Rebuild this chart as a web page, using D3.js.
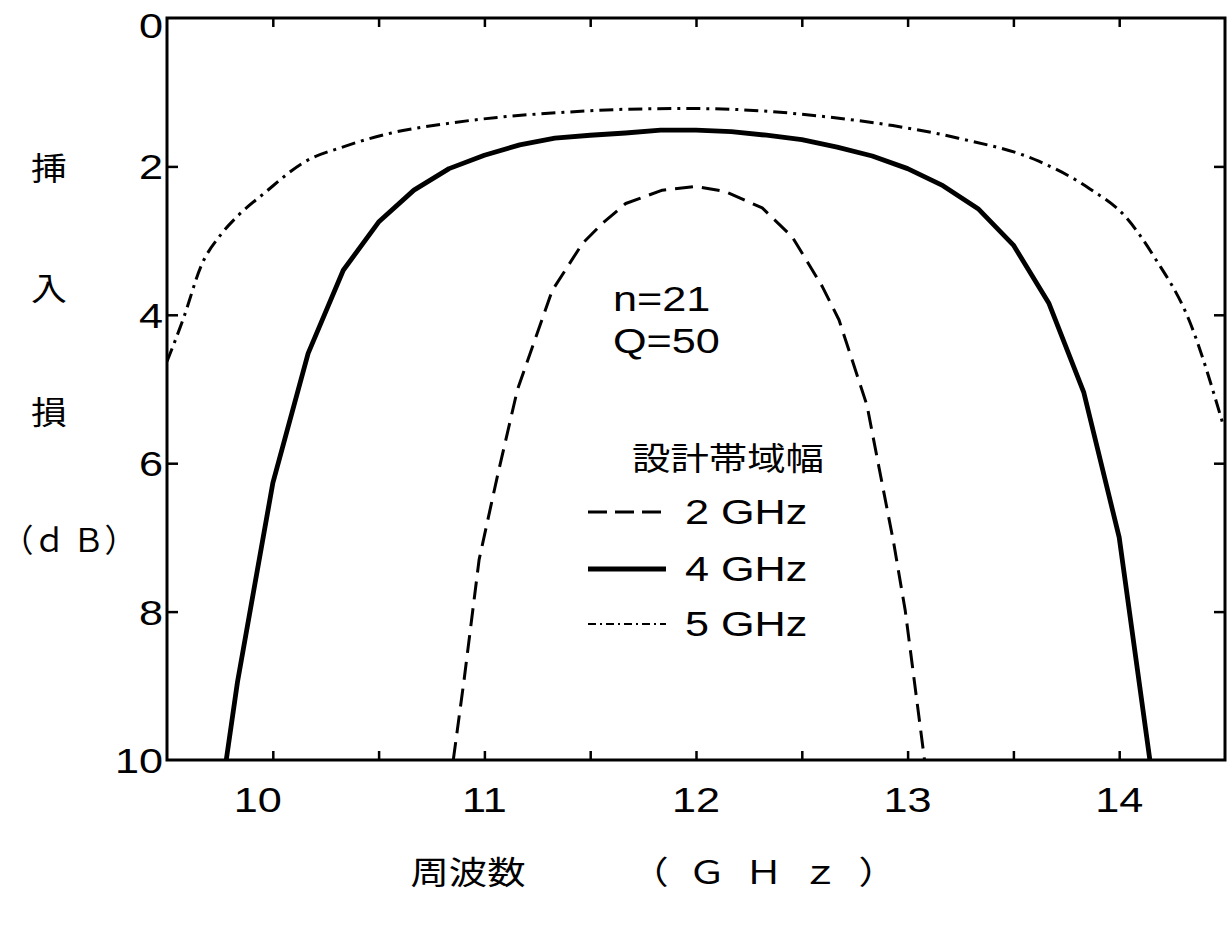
<!DOCTYPE html>
<html>
<head>
<meta charset="utf-8">
<script src="https://cdn.jsdelivr.net/npm/d3@7"></script>
<style>
  html, body { margin: 0; padding: 0; background: #fff; }
  svg { display: block; }
  text { fill: #000; }
  .lat { font-family: "Liberation Sans", Arial, Helvetica, sans-serif; }
  .cjk { font-family: "Noto Sans CJK JP", sans-serif; }
</style>
</head>
<body>
<svg id="chart" width="1228" height="926"></svg>
<script>
// Insertion loss of a 21-stage filter (Q = 50) for three design bandwidths.

// 2 GHz design bandwidth
const bw2Freq = [10.853, 10.904, 10.975, 11.061, 11.156, 11.321, 11.463, 11.557, 11.668, 11.841, 11.998,
                 12.140, 12.313, 12.455, 12.597, 12.676, 12.808, 12.863, 12.934, 12.989, 13.080];
const bw2Loss = [10.0, 8.92, 7.30, 6.18, 5.01, 3.67, 3.04, 2.77, 2.50, 2.32, 2.27,
                 2.34, 2.56, 2.95, 3.62, 4.07, 5.22, 6.03, 7.07, 7.99, 10.0];

// 4 GHz design bandwidth
const bw4Freq = [9.78, 9.833, 10.0, 10.167, 10.333, 10.5, 10.667, 10.833, 11.0, 11.167, 11.333, 11.5, 11.667, 11.833,
                 12.0, 12.167, 12.333, 12.5, 12.667, 12.833, 13.0, 13.167, 13.333, 13.5, 13.667, 13.833, 14.0, 14.145];
const bw4Loss = [10.0, 8.95, 6.27, 4.52, 3.40, 2.75, 2.32, 2.03, 1.85, 1.71, 1.62, 1.58, 1.55, 1.51,
                 1.51, 1.53, 1.58, 1.64, 1.74, 1.86, 2.03, 2.26, 2.57, 3.06, 3.84, 5.05, 7.0, 10.0];

// 5 GHz design bandwidth
const bw5Freq = [9.5, 9.58, 9.66, 9.76, 9.83, 9.96, 10.15, 10.34, 10.56, 10.83, 11.06, 11.38,
                 11.67, 11.98, 12.30, 12.61, 12.93, 13.24, 13.62, 13.86, 14.03, 14.17, 14.33, 14.49];
const bw5Loss = [4.63, 4.03, 3.35, 2.90, 2.68, 2.36, 1.94, 1.73, 1.55, 1.42, 1.34, 1.27,
                 1.23, 1.22, 1.25, 1.33, 1.45, 1.62, 1.93, 2.30, 2.68, 3.24, 4.07, 5.47];

const xTickValues = [10, 10.5, 11, 11.5, 12, 12.5, 13, 13.5, 14];
const xTickLabels = [10, 11, 12, 13, 14];
const yTickValues = [2, 4, 6, 8];
const yTickLabels = [0, 2, 4, 6, 8, 10];

const legendTitle = "設計帯域幅";
const legendLabels = ["2 GHz", "4 GHz", "5 GHz"];
const yTitleChars = ["挿", "入", "損"];
const yTitleUnit = "（ｄ Ｂ）";
const xTitle = "周波数";
const xTitleUnitParts = ["（", "Ｇ Ｈ ｚ", "）"];
const noteLines = ["n=21", "Q=50"];

const svg = d3.select("#chart");
const x = d3.scaleLinear().domain([9.5, 14.5]).range([167, 1225]);
const y = d3.scaleLinear().domain([0, 10]).range([18, 760]);
const SX = 1.2; // horizontal stretch of lettering

const series = [
  { freq: bw2Freq, loss: bw2Loss, width: 3.0, dash: "18,9", curve: d3.curveLinear },
  { freq: bw4Freq, loss: bw4Loss, width: 4.8, dash: null, curve: d3.curveLinear },
  { freq: bw5Freq, loss: bw5Loss, width: 3.0, dash: "14,6,3,6", curve: d3.curveMonotoneX }
];

// clip region = plot frame
svg.append("defs").append("clipPath").attr("id", "plotClip")
  .append("rect")
  .attr("x", x(9.5)).attr("y", y(0))
  .attr("width", x(14.5) - x(9.5)).attr("height", y(10) - y(0));

// curves
const plot = svg.append("g").attr("clip-path", "url(#plotClip)");
series.forEach(s => {
  const pts = s.freq.map((f, i) => [f, s.loss[i]]);
  const line = d3.line().x(d => x(d[0])).y(d => y(d[1])).curve(s.curve);
  plot.append("path")
    .attr("d", line(pts))
    .attr("fill", "none")
    .attr("stroke", "#000")
    .attr("stroke-width", s.width)
    .attr("stroke-dasharray", s.dash)
    .attr("stroke-linejoin", "round");
});

// inward ticks on all four sides
function styleAxis(g) {
  g.select(".domain").remove();
  g.selectAll(".tick line").attr("stroke", "#000").attr("stroke-width", 2.5);
}
svg.append("g").attr("transform", `translate(0,${y(10)})`)
  .call(d3.axisBottom(x).tickValues(xTickValues).tickSize(-9).tickFormat(""))
  .call(styleAxis);
svg.append("g").attr("transform", `translate(0,${y(0)})`)
  .call(d3.axisTop(x).tickValues(xTickValues).tickSize(-9).tickFormat(""))
  .call(styleAxis);
svg.append("g").attr("transform", `translate(${x(9.5)},0)`)
  .call(d3.axisLeft(y).tickValues(yTickValues).tickSize(-11).tickFormat(""))
  .call(styleAxis);
svg.append("g").attr("transform", `translate(${x(14.5)},0)`)
  .call(d3.axisRight(y).tickValues(yTickValues).tickSize(-11).tickFormat(""))
  .call(styleAxis);

// frame
svg.append("rect")
  .attr("x", x(9.5)).attr("y", y(0))
  .attr("width", x(14.5) - x(9.5)).attr("height", y(10) - y(0))
  .attr("fill", "none").attr("stroke", "#000").attr("stroke-width", 3);

// tick labels
svg.append("g").selectAll("text").data(xTickLabels).join("text")
  .attr("class", "lat")
  .attr("font-size", 36)
  .attr("text-anchor", "middle")
  .attr("transform", d => `translate(${x(d) - (d === 10 ? 15 : 0)},812) scale(${SX},1)`)
  .text(d => d);

// the top label is kept inside the canvas
svg.append("g").selectAll("text").data(yTickLabels).join("text")
  .attr("class", "lat")
  .attr("font-size", 36)
  .attr("text-anchor", "end")
  .attr("dy", "0.36em")
  .attr("transform", d => `translate(163,${Math.max(y(d), 25)}) scale(${SX},1)`)
  .text(d => d);

// vertical axis title
const yTitleY = [168, 288, 412];
svg.append("g").selectAll("text").data(yTitleChars).join("text")
  .attr("class", "cjk")
  .attr("font-size", 32)
  .attr("text-anchor", "middle")
  .attr("dy", "0.36em")
  .attr("transform", (d, i) => `translate(49,${yTitleY[i]}) scale(1.12,1)`)
  .text(d => d);
svg.append("text")
  .attr("class", "cjk")
  .attr("font-size", 32)
  .attr("text-anchor", "middle")
  .attr("dy", "0.36em")
  .attr("transform", `translate(69,540)`)
  .text(yTitleUnit);

// horizontal axis title
svg.append("text")
  .attr("class", "cjk").attr("font-size", 32).attr("text-anchor", "middle")
  .attr("transform", `translate(468,884) scale(${SX},1)`)
  .text(xTitle);
const xUnit = svg.append("text")
  .attr("class", "cjk").attr("font-size", 32).attr("text-anchor", "middle")
  .attr("letter-spacing", 4)
  .attr("transform", `translate(766,884) scale(${SX},1)`);
xUnit.selectAll("tspan").data(xTitleUnitParts).join("tspan")
  .attr("dx", (d, i) => i === 0 ? 0 : 12)
  .text(d => d);

// parameter note
const noteBase = [311, 353];
svg.append("g").selectAll("text").data(noteLines).join("text")
  .attr("class", "lat").attr("font-size", 36)
  .attr("transform", (d, i) => `translate(613,${noteBase[i]}) scale(${SX},1)`)
  .text(d => d);

// legend
svg.append("text")
  .attr("class", "cjk").attr("font-size", 32)
  .attr("transform", `translate(632,470) scale(${SX},1)`)
  .text(legendTitle);

const legendRowY = [512, 569, 624];
const legendStyle = [
  { width: 3.0, dash: "19,8" },
  { width: 4.8, dash: null },
  { width: 2.2, dash: "8,4,2,4" }
];
const lg = svg.append("g");
legendLabels.forEach((lab, i) => {
  lg.append("line")
    .attr("x1", 588).attr("x2", 666)
    .attr("y1", legendRowY[i]).attr("y2", legendRowY[i])
    .attr("stroke", "#000")
    .attr("stroke-width", legendStyle[i].width)
    .attr("stroke-dasharray", legendStyle[i].dash);
  lg.append("text")
    .attr("class", "lat").attr("font-size", 36)
    .attr("transform", `translate(685,${legendRowY[i] + 12}) scale(${SX},1)`)
    .text(lab);
});
</script>
</body>
</html>
